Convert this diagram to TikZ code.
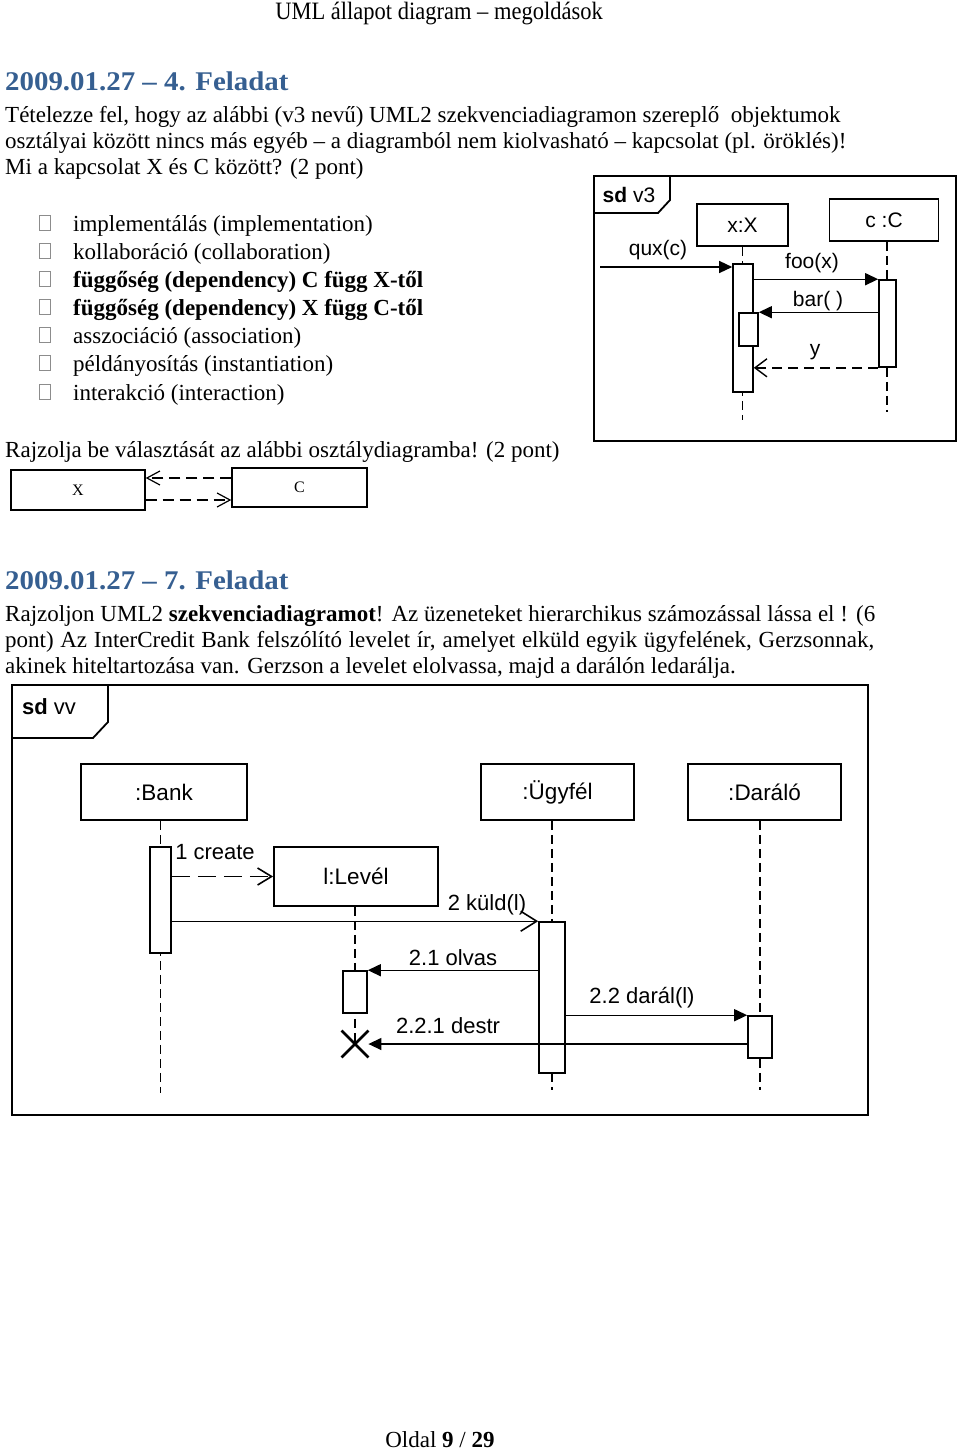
\documentclass[tikz,border=0pt]{standalone}
\usepackage{fontspec}
\setmainfont{Liberation Serif}
\newfontfamily\arial{Liberation Sans}
\usetikzlibrary{arrows.meta,shapes.misc}
\definecolor{headblue}{RGB}{54,95,145}
\begin{document}
\begin{tikzpicture}[x=1pt,y=-1pt,
  txt/.style={anchor=base west,inner sep=0pt,font=\fontsize{23}{26}\selectfont},
  head/.style={anchor=base west,inner sep=0pt,text=headblue,font=\fontsize{27}{30}\selectfont\bfseries},
  cbox/.style={draw=black!45,line width=0.6pt,minimum width=11pt,minimum height=15pt,inner sep=0pt},
  frm/.style={line width=1.8pt},
  obj/.style={draw,line width=1.8pt,inner sep=0pt,font=\arial\fontsize{21}{24}\selectfont},
  objb/.style={obj,font=\arial\fontsize{22.5}{26}\selectfont},
  act/.style={draw,fill=white,line width=1.6pt,inner sep=0pt},
  life/.style={line width=1.5pt,dash pattern=on 9pt off 5pt},
  sync/.style={line width=1.4pt,-{Triangle[length=13pt,width=12pt]}},
  async/.style={line width=1.4pt,-{Straight Barb[length=16pt,width=20pt,line width=1.6pt]}},
  lbl/.style={inner sep=0pt,font=\arial\fontsize{21}{24}\selectfont},
  lblb/.style={inner sep=0pt,font=\arial\fontsize{22}{26}\selectfont},
  cls/.style={draw,line width=1.4pt,inner sep=0pt,font=\fontsize{16}{18}\selectfont},
  dep/.style={line width=1.2pt,dash pattern=on 11pt off 6pt,-{Straight Barb[length=13pt,width=14pt,line width=1.2pt]}}]
\useasboundingbox[fill=white] (0,0) rectangle (960,1450);

% page header
\node[inner sep=0pt,anchor=base] (hdr) at (439,20) {\scalebox{0.9}[1]{\fontsize{25}{28}\selectfont UML állapot diagram -- megoldások}};

% task 4
\node[head] (h4) at (5,91) {\scalebox{1.07}[1]{2009.01.27 -- 4. Feladat}};
\node[txt] (p1) at (5,123) {Tételezze fel, hogy az alábbi (v3 nevű) UML2 szekvenciadiagramon szereplő\ \ objektumok};
\node[txt] (p2) at (5,149) {osztályai között nincs más egyéb -- a diagramból nem kiolvasható -- kapcsolat (pl. öröklés)!};
\node[txt] (p3) at (5,175) {Mi a kapcsolat X és C között? (2 pont)};

\node[cbox] (cb1) at (45,223) {};
\node[cbox] (cb2) at (45,251) {};
\node[cbox] (cb3) at (45,279) {};
\node[cbox] (cb4) at (45,307) {};
\node[cbox] (cb5) at (45,335) {};
\node[cbox] (cb6) at (45,363) {};
\node[cbox] (cb7) at (45,392) {};
\node[txt] (o1) at (73,231) {implementálás (implementation)};
\node[txt] (o2) at (73,259) {kollaboráció (collaboration)};
\node[txt] (o3) at (73,287) {\bfseries függőség (dependency) C függ X-től};
\node[txt] (o4) at (73,315) {\bfseries függőség (dependency) X függ C-től};
\node[txt] (o5) at (73,343) {asszociáció (association)};
\node[txt] (o6) at (73,371) {példányosítás (instantiation)};
\node[txt] (o7) at (73,400) {interakció (interaction)};

\node[txt] (p4) at (5,457) {Rajzolja be választását az alábbi osztálydiagramba! (2 pont)};

% class diagram
\node[cls,minimum width=134pt,minimum height=40pt] (xb) at (78,490) {X};
\node[cls,minimum width=135pt,minimum height=39pt] (cc) at (299.5,487.5) {C};
\draw[dep] ([yshift=9.5pt]cc.west) -- ([yshift=9.5pt]cc.west -| xb.east);
\draw[dep] ([yshift=-10pt]xb.east) -- ([yshift=-10pt]xb.east -| cc.west);

% sd v3
\draw[frm] (594,176) rectangle (956,441);
\draw[frm] (594,213) -- (658,213) -- (670,200) -- (670,176);
\node[lbl] (sdv3) at (629,195) {\textbf{sd} v3};
\node[obj,minimum width=91pt,minimum height=42pt] (ox) at (742.5,225) {x:X};
\node[obj,minimum width=109pt,minimum height=42pt] (oc) at (884,220) {c :C};
\coordinate (ex) at (742.5,420);
\coordinate (ec) at (887,412);
\draw[life] (ox.south) -- (ex);
\draw[life] (oc.south -| ec) -- (ec);
\node[act,minimum width=20pt,minimum height=128pt] (ax) at (743,328) {};
\node[act,minimum width=19pt,minimum height=33pt] (an) at (748.5,329.5) {};
\node[act,minimum width=17pt,minimum height=87pt] (ac) at (887.5,323.5) {};
\coordinate (quxs) at (600,267);
\draw[sync] (quxs) -- (quxs -| ax.west);
\draw[sync] (ax.east |- ac.north) -- (ac.north west);
\draw[sync] (ac.west |- an.north) -- (an.north east);
\draw[line width=1.4pt,dash pattern=on 10pt off 6pt,-{Straight Barb[length=12pt,width=18pt,line width=1.4pt]}] (ac.south west) -- (ax.east |- ac.south);
\node[lbl] (lqux) at (658,250) {qux(c)};
\node[lbl] (lfoo) at (812,263) {foo(x)};
\node[lbl] (lbar) at (818,301) {bar( )};
\node[lbl] (ly) at (815,352) {y};

% task 7
\node[head] (h7) at (5,589) {\scalebox{1.07}[1]{2009.01.27 -- 7. Feladat}};
\node[txt] (q1) at (5,621) {\makebox[870pt][s]{Rajzoljon UML2 \textbf{szekvenciadiagramot}! Az üzeneteket hierarchikus számozással lássa el ! (6}};
\node[txt] (q2) at (5,647) {\makebox[869pt][s]{pont) Az InterCredit Bank felszólító levelet ír, amelyet elküld egyik ügyfelének, Gerzsonnak,}};
\node[txt] (q3) at (5,673) {akinek hiteltartozása van. Gerzson a levelet elolvassa, majd a darálón ledarálja.};

% sd vv
\draw[frm] (12,685) rectangle (868,1115);
\draw[frm] (12,738) -- (93,738) -- (108,722) -- (108,685);
\node[lblb] (sdvv) at (49,707) {\textbf{sd} vv};
\node[objb,minimum width=166pt,minimum height=56pt] (bank) at (164,792) {:Bank};
\node[objb,minimum width=164pt,minimum height=59pt] (lev) at (356,876.5) {l:Levél};
\node[objb,minimum width=153pt,minimum height=56pt] (ugy) at (557.5,792) {:Ügyfél};
\node[objb,minimum width=153pt,minimum height=56pt] (dar) at (764.5,792) {:Daráló};
\node[draw,cross out,line width=2.8pt,minimum size=24pt,inner sep=0pt] (xd) at (355,1044) {};
\coordinate (eb) at (160.5,1093);
\coordinate (eu) at (552,1090);
\coordinate (ed) at (760,1090);
\draw[life] (bank.south -| eb) -- (eb);
\draw[life] (ugy.south -| eu) -- (eu);
\draw[life] (dar.south -| ed) -- (ed);
\draw[life] (lev.south -| xd) -- (xd.center);
\node[act,minimum width=21pt,minimum height=106pt] (ab) at (160.5,900) {};
\node[act,minimum width=24pt,minimum height=42pt] (al) at (355,992) {};
\node[act,minimum width=26pt,minimum height=151pt] (au) at (552,997.5) {};
\node[act,minimum width=24pt,minimum height=42pt] (ad) at (760,1037) {};
\draw[line width=1.6pt,dash pattern=on 18pt off 8pt,-{Straight Barb[length=14pt,width=17pt,line width=1.6pt]}] (ab.east |- lev.west) -- (lev.west);
\draw[async] (ab.east |- au.north) -- (au.north west);
\draw[sync] (au.west |- al.north) -- (al.north east);
\draw[sync] (au.east |- ad.north) -- (ad.north west);
\draw[sync] (ad.west |- xd.east) -- (xd.east);
\node[lblb] (lcreate) at (215,852) {1 create};
\node[lblb] (lkuld) at (487,905) {2 küld(l)};
\node[lblb] (lolvas) at (453,958) {2.1 olvas};
\node[lblb] (ldaral) at (642,998) {2.2 darál(l)};
\node[lblb] (ldestr) at (448,1026) {2.2.1 destr};

% footer
\node[inner sep=0pt,anchor=base] (ftr) at (440,1447) {\fontsize{23}{26}\selectfont Oldal \textbf{9} / \textbf{29}};
\end{tikzpicture}
\end{document}
